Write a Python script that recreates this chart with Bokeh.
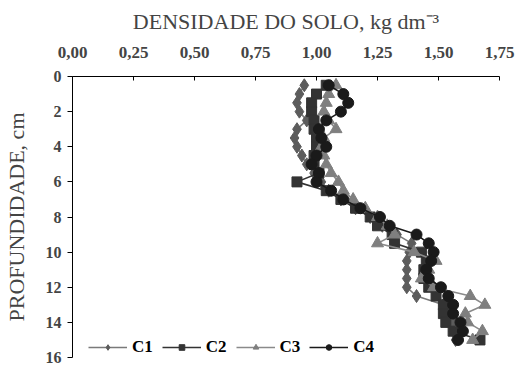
from bokeh.plotting import figure
from bokeh.models import Range1d, FixedTicker, Legend, LegendItem
from bokeh.embed import file_html
from bokeh.resources import INLINE

depth = [0.5, 1.0, 1.5, 2.0, 2.5, 3.0, 3.5, 4.0, 4.5, 5.0, 5.5, 6.0, 6.5, 7.0, 7.5,
         8.0, 8.5, 9.0, 9.5, 10.0, 10.5, 11.0, 11.5, 12.0, 12.5, 13.0, 13.5, 14.0, 14.5, 15.0]

c1 = [0.95, 0.93, 0.92, 0.93, 0.96, 0.92, 0.91, 0.92, 0.94, 0.96, 0.99, 1.02, 1.05, 1.10, 1.16,
      1.22, 1.27, 1.33, 1.39, 1.38, 1.37, 1.37, 1.37, 1.37, 1.41, 1.52, 1.55, 1.56, 1.56, 1.57]
c2 = [1.04, 1.00, 0.98, 0.98, 0.99, 0.99, 1.00, 1.00, 0.99, 0.99, 1.01, 0.92, 1.04, 1.10, 1.16,
      1.22, 1.25, 1.31, 1.32, 1.43, 1.45, 1.44, 1.44, 1.46, 1.49, 1.52, 1.52, 1.53, 1.56, 1.67]
c3 = [1.08, 1.05, 1.04, 1.03, 1.05, 1.08, 1.03, 1.02, 1.03, 1.04, 1.06, 1.09, 1.11, 1.15, 1.20,
      1.25, 1.29, 1.32, 1.25, 1.40, 1.49, 1.46, 1.43, 1.48, 1.63, 1.69, 1.61, 1.62, 1.68, 1.64]
c4 = [1.05, 1.11, 1.13, 1.10, 1.04, 1.01, 1.02, 1.04, 1.00, 0.98, 1.01, 1.00, 1.06, 1.11, 1.18,
      1.26, 1.30, 1.41, 1.46, 1.48, 1.47, 1.45, 1.46, 1.51, 1.54, 1.56, 1.56, 1.59, 1.60, 1.58]

series_names = ["C1", "C2", "C3", "C4"]
x_ticks = [0.0, 0.25, 0.5, 0.75, 1.0, 1.25, 1.5, 1.75]
x_tick_labels = ["0,00", "0,25", "0,50", "0,75", "1,00", "1,25", "1,50", "1,75"]
y_ticks = [0, 2, 4, 6, 8, 10, 12, 14, 16]

SERIF = "Liberation Serif"

p = figure(width=527, height=367, x_range=Range1d(0, 1.75), y_range=Range1d(16, 0),
           x_axis_location="above", output_backend="svg", toolbar_location=None,
           min_border_left=70, min_border_top=76, min_border_right=28, min_border_bottom=10)
p.grid.visible = False
p.outline_line_color = None
p.background_fill_color = "white"
p.border_fill_color = "white"

xa = p.xaxis[0]
xa.ticker = FixedTicker(ticks=x_ticks)
xa.major_label_overrides = {t: l for t, l in zip(x_ticks, x_tick_labels)}
xa.axis_label = "DENSIDADE DO SOLO, kg dm\u207b\u00b3"
xa.axis_label_text_font = SERIF
xa.axis_label_text_font_style = "normal"
xa.axis_label_text_font_size = "22px"
xa.axis_label_standoff = 10
xa.major_label_text_font = SERIF
xa.major_label_text_font_style = "bold"
xa.major_label_text_font_size = "17px"
xa.major_label_standoff = 19
xa.major_tick_in = 4
xa.major_tick_out = 0
xa.minor_tick_line_color = None
xa.axis_line_color = "black"

ya = p.yaxis[0]
ya.ticker = FixedTicker(ticks=y_ticks)
ya.axis_label = "PROFUNDIDADE, cm"
ya.axis_label_text_font = SERIF
ya.axis_label_text_font_style = "normal"
ya.axis_label_text_font_size = "22px"
ya.axis_label_standoff = 14
ya.major_label_text_font = SERIF
ya.major_label_text_font_style = "bold"
ya.major_label_text_font_size = "16px"
ya.major_label_standoff = 6
ya.major_tick_in = 0
ya.major_tick_out = 5
ya.minor_tick_line_color = None

styles = [
    (c1, "diamond", 13, "#5c5c5c", "#7a7a7a"),
    (c2, "square", 10, "#333333", "#333333"),
    (c3, "triangle", 12, "#7f7f7f", "#8a8a8a"),
    (c4, "circle", 11, "#1a1a1a", "#1a1a1a"),
]

items = []
for name, (vals, marker, size, mcol, lcol) in zip(series_names, styles):
    r1 = p.line(vals, depth, line_color=lcol, line_width=1.6)
    r2 = p.scatter(vals, depth, marker=marker, size=size, fill_color=mcol, line_color=mcol)
    items.append(LegendItem(label=name, renderers=[r1, r2]))

legend = Legend(items=items, orientation="horizontal", location=(16, 0),
                glyph_width=39, glyph_height=14, label_standoff=5, spacing=9,
                padding=0, margin=0, border_line_color=None, background_fill_alpha=0,
                label_text_font=SERIF, label_text_font_style="bold",
                label_text_font_size="17px", label_text_color="black")
p.add_layout(legend, "center")

open("out.html", "w").write(file_html(p, INLINE))
